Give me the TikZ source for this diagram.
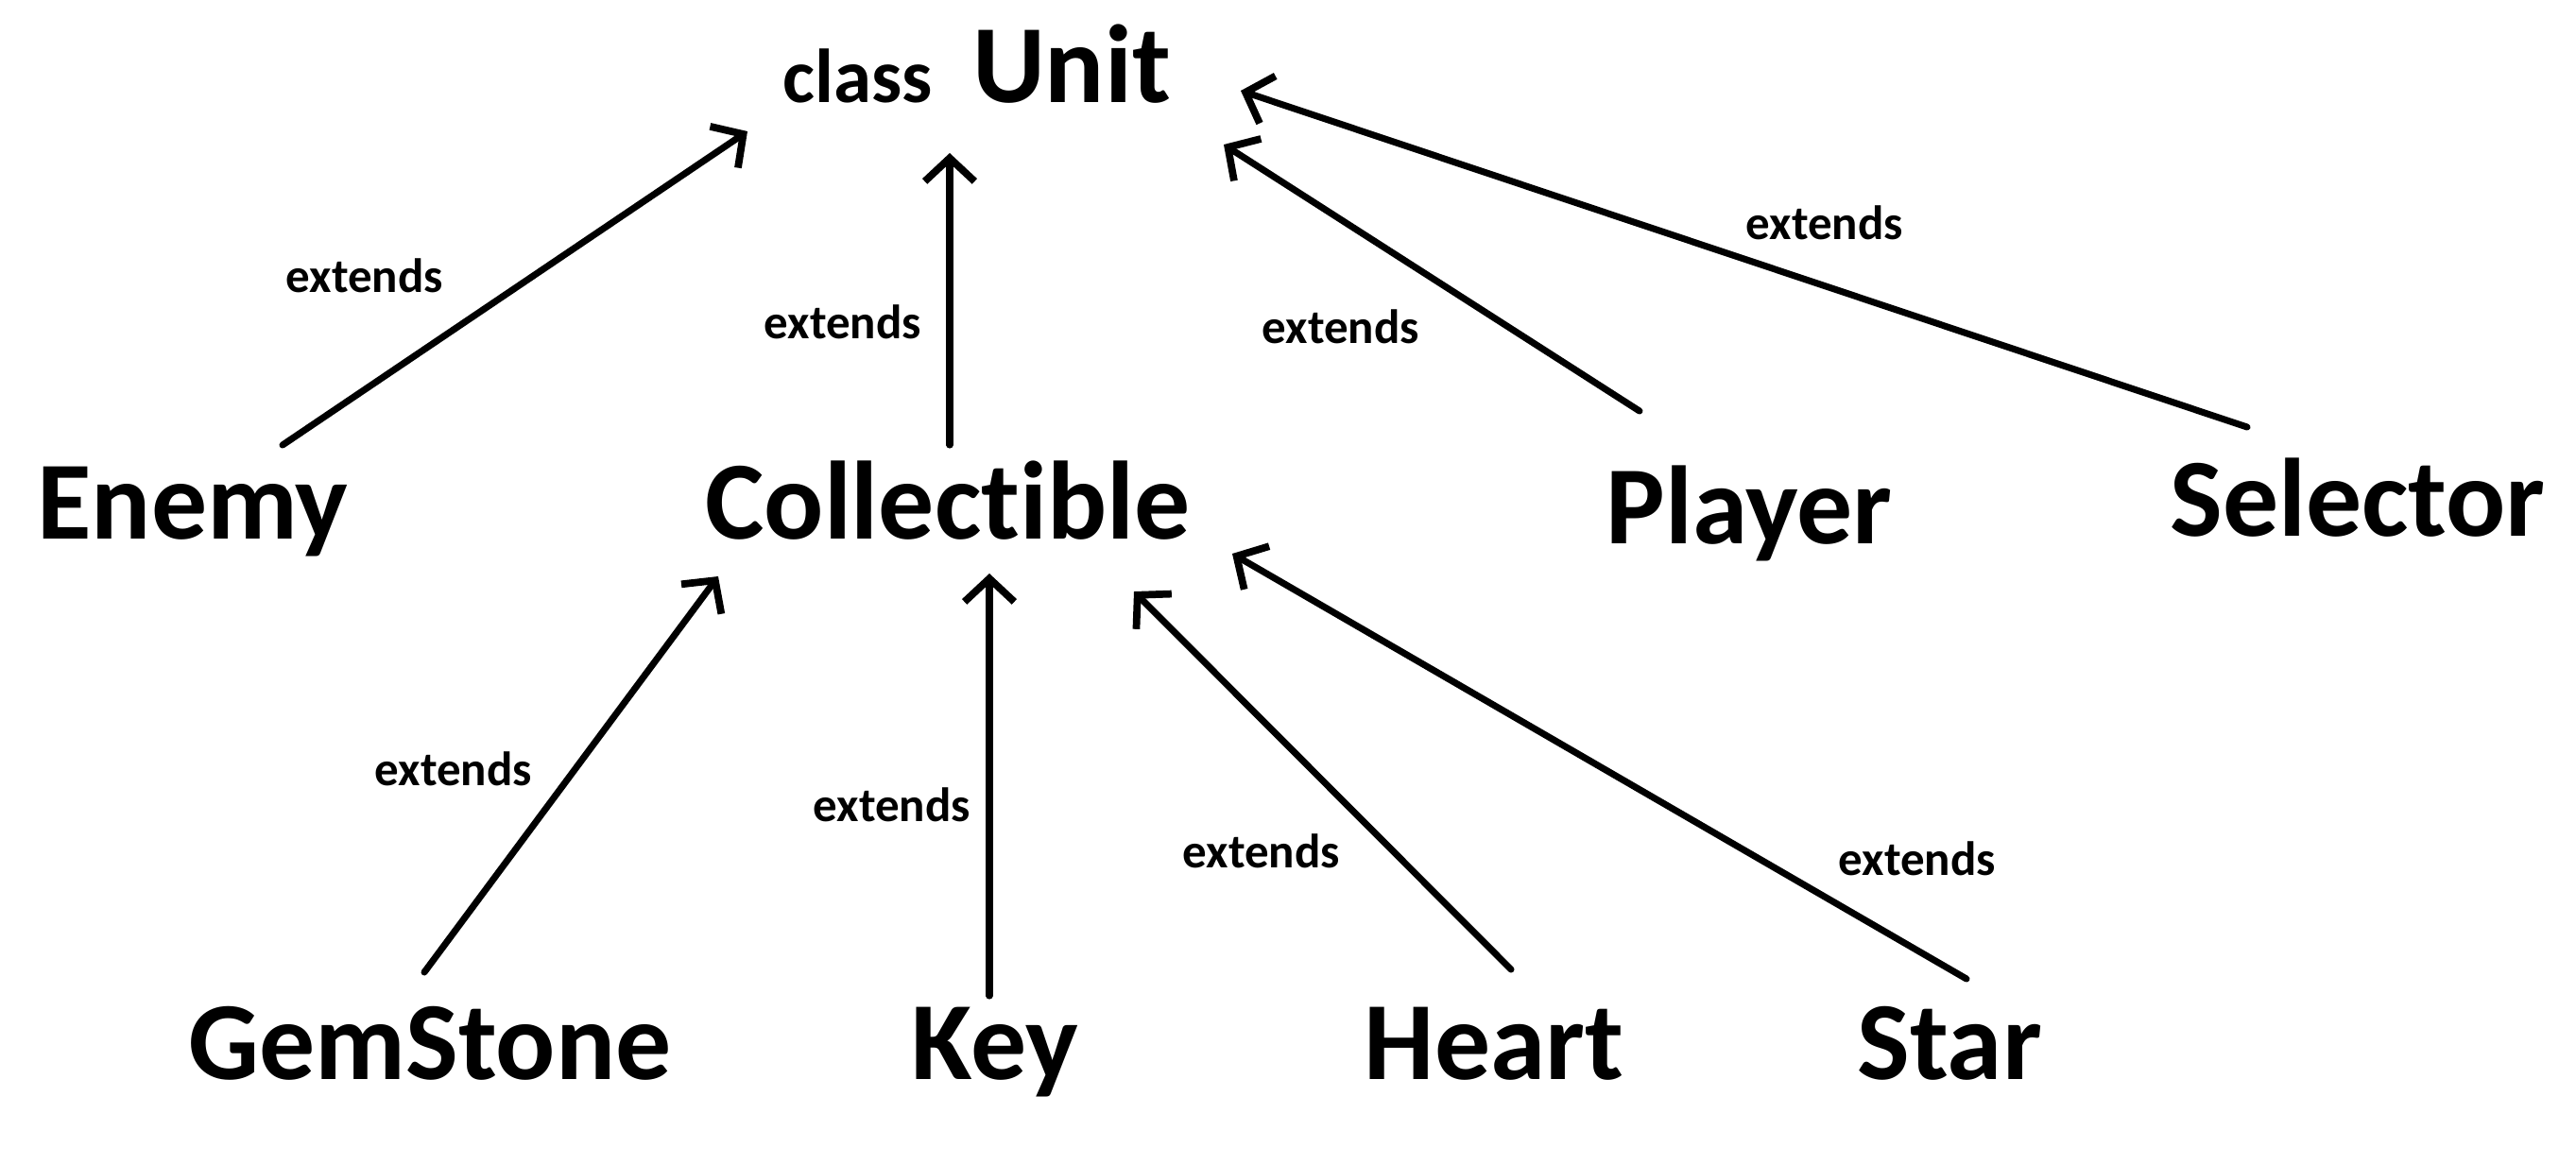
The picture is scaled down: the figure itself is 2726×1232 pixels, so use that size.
\documentclass[tikz,border=0pt]{standalone}
\usepackage{fontspec}
\setmainfont[Ligatures=NoCommon]{Carlito}
\usetikzlibrary{arrows.meta}
\begin{document}
\begin{tikzpicture}[x=0.01cm,y=-0.01cm,
  cls/.style={font=\bfseries\fontsize{33.5}{36}\selectfont, anchor=base, inner sep=0pt},
  kw/.style={font=\bfseries\fontsize{23}{26}\selectfont, anchor=base, inner sep=0pt},
  ext/.style={font=\bfseries\fontsize{14.5}{16}\selectfont, inner sep=0pt},
  inh/.style={line width=2pt, line cap=round, -{Straight Barb[length=7pt,width=15pt,line width=2.2pt]}}]
\useasboundingbox (0,0) rectangle (2726,1232);
% class nodes
\node[kw]  (class) at (908,108) {class};
\node[cls] (unit) at (1134,108) {Unit};
\node[cls] (enemy) at (204,570) {Enemy};
\node[cls] (coll) at (1003,570) {Collectible};
\node[cls] (player) at (1851,575) {Player};
\node[cls] (selector) at (2495,567) {Selector};
\node[cls] (gem) at (455,1142) {GemStone};
\node[cls] (key) at (1053,1142) {Key};
\node[cls] (heart) at (1581,1142) {Heart};
\node[cls] (star) at (2063,1142) {Star};
% connector end points
\coordinate (enemyT) at (299,471);   \coordinate (unitE) at (791,139);
\coordinate (collT) at (1005,471);   \coordinate (unitC) at (1005,162);
\coordinate (playerT) at (1735,435); \coordinate (unitP) at (1295,153);
\coordinate (selT) at (2378,452);    \coordinate (unitS) at (1313,96);
\coordinate (gemT) at (449,1029);    \coordinate (collG) at (760,610);
\coordinate (keyT) at (1047,1054);   \coordinate (collK) at (1047,607);
\coordinate (heartT) at (1599,1026); \coordinate (collH) at (1200,626);
\coordinate (starT) at (2081,1036);  \coordinate (collS) at (1304,586);
% connectors
\draw[inh] (enemyT) -- (unitE);
\draw[inh] (collT) -- (unitC);
\draw[inh] (playerT) -- (unitP);
\draw[inh] (selT) -- (unitS);
\draw[inh] (gemT) -- (collG);
\draw[inh] (keyT) -- (collK);
\draw[inh] (heartT) -- (collH);
\draw[inh] (starT) -- (collS);
% labels
\node[ext] (l1) at (386,292) {extends};
\node[ext] (l2) at (892,341) {extends};
\node[ext] (l3) at (1419,346) {extends};
\node[ext] (l4) at (1931,236) {extends};
\node[ext] (l5) at (480,814) {extends};
\node[ext] (l6) at (944,852) {extends};
\node[ext] (l7) at (1335,901) {extends};
\node[ext] (l8) at (2029,909) {extends};
\end{tikzpicture}
\end{document}
